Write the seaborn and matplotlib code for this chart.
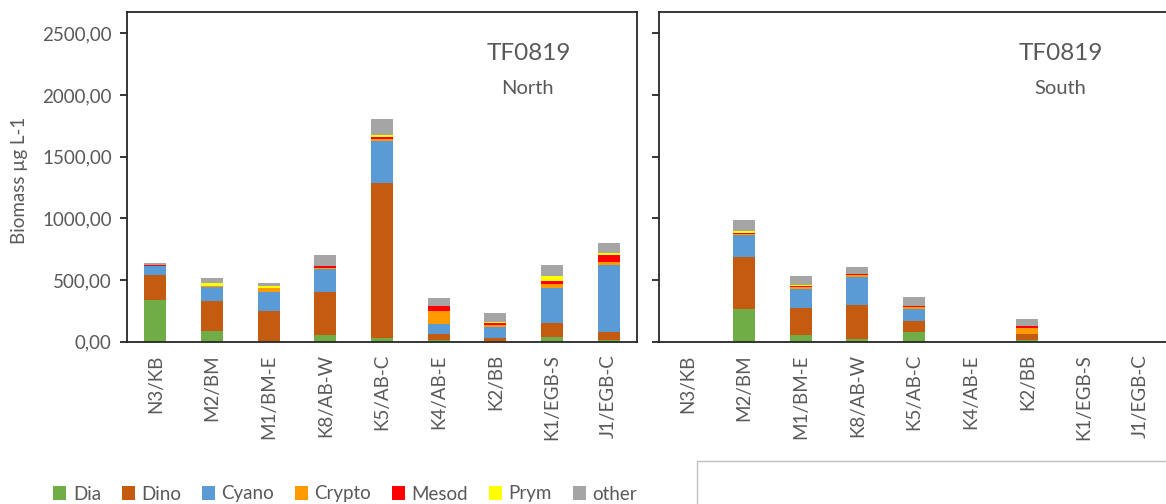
import matplotlib
matplotlib.use("Agg")
import matplotlib.pyplot as plt
import matplotlib.patches as mpatches
from matplotlib.ticker import FuncFormatter, FixedLocator
import seaborn as sns
import pandas as pd
import numpy as np

stations = ["N3/KB", "M2/BM", "M1/BM-E", "K8/AB-W", "K5/AB-C",
            "K4/AB-E", "K2/BB", "K1/EGB-S", "J1/EGB-C"]
groups = ["Dia", "Dino", "Cyano", "Crypto", "Mesod", "Prym", "other"]
colors = ["#70AD47", "#C55A11", "#5B9BD5", "#FF9A00", "#FF0000", "#FFFF00", "#A5A5A5"]

# North
north_dia    = [340, 90, 8, 57, 28, 12, 8, 41, 14]
north_dino   = [203, 236, 242, 342, 1262, 48, 22, 109, 62]
north_cyano  = [68, 114, 152, 187, 333, 84, 90, 287, 543]
north_crypto = [3, 8, 33, 12, 20, 103, 19, 33, 27]
north_mesod  = [8, 0, 0, 14, 13, 46, 13, 24, 54]
north_prym   = [0, 30, 13, 0, 21, 0, 6, 41, 19]
north_other  = [18, 38, 27, 94, 128, 63, 76, 84, 84]

# South
south_dia    = [0, 269, 51, 22, 80, 0, 14, 0, 0]
south_dino   = [0, 420, 221, 278, 87, 0, 48, 0, 0]
south_cyano  = [0, 176, 154, 228, 96, 0, 0, 0, 0]
south_crypto = [0, 8, 14, 10, 18, 0, 52, 0, 0]
south_mesod  = [0, 8, 8, 9, 12, 0, 14, 0, 0]
south_prym   = [0, 16, 11, 3, 0, 0, 0, 0, 0]
south_other  = [0, 93, 76, 53, 73, 0, 57, 0, 0]

north = [north_dia, north_dino, north_cyano, north_crypto, north_mesod, north_prym, north_other]
south = [south_dia, south_dino, south_cyano, south_crypto, south_mesod, south_prym, south_other]

sns.set_theme(style="white")
plt.rcParams["font.family"] = ["Lato", "DejaVu Sans"]

W, H = 1166, 504
fig = plt.figure(figsize=(W / 100, H / 100), dpi=100)

def fx(px):
    return px / W

def fy(py):
    return 1 - py / H

ax_top, ax_bot = 11.7, 341.7
axL = fig.add_axes([fx(127), fy(ax_bot), fx(510), (ax_bot - ax_top) / H])
axR = fig.add_axes([fx(659), fy(ax_bot), fx(510), (ax_bot - ax_top) / H])

grey = "#595959"

def draw(ax, series, sub):
    cum = np.cumsum(np.array(series, dtype=float), axis=0)
    for i in range(len(groups) - 1, -1, -1):
        df = pd.DataFrame({"station": stations, "value": cum[i]})
        sns.barplot(data=df, x="station", y="value", order=stations, color=colors[i],
                    saturation=1, width=0.39, ax=ax, errorbar=None, linewidth=0)
    ax.set_xlim(-0.5, 8.5)
    ax.set_ylim(0, 2675)
    ax.set_xlabel("")
    ax.set_ylabel("")
    ax.yaxis.set_major_locator(FixedLocator([0, 500, 1000, 1500, 2000, 2500]))
    ax.tick_params(axis="x", length=0, pad=9, labelsize=13.5, labelcolor=grey, labelrotation=90)
    ax.tick_params(axis="y", left=True, length=5, width=1.3, color="#262626", direction="out",
                   pad=6, labelsize=13.5, labelcolor=grey)
    for s in ax.spines.values():
        s.set_color("#262626")
        s.set_linewidth(1.3)
    ax.text(0.788, 0.872, "TF0819", transform=ax.transAxes, ha="center", va="center",
            fontsize=17.5, color=grey)
    ax.text(0.786, 0.768, sub, transform=ax.transAxes, ha="center", va="center",
            fontsize=14.5, color=grey)

draw(axL, north, "North")
draw(axR, south, "South")

axL.yaxis.set_major_formatter(FuncFormatter(lambda v, p: f"{v:.2f}".replace(".", ",")))
axR.tick_params(axis="y", labelleft=False)

fig.text(fx(20), fy(180), "Biomass µg L-1", rotation=90, ha="center", va="center",
         fontsize=13.5, color=grey)

handles = [mpatches.Patch(facecolor=c, edgecolor="none", label=g) for g, c in zip(groups, colors)]
fig.legend(handles=handles, loc="center", bbox_to_anchor=(fx(345), fy(494)), ncol=7,
           frameon=False, fontsize=13.5, handlelength=0.7, handleheight=0.7,
           handletextpad=0.35, columnspacing=1.1, labelcolor=grey)

fig.patches.append(mpatches.Rectangle((fx(697), fy(530)), fx(500), (530 - 461) / H,
                                      transform=fig.transFigure, facecolor="white",
                                      edgecolor="#BFBFBF", linewidth=1))

fig.savefig("out.png", dpi=100)
